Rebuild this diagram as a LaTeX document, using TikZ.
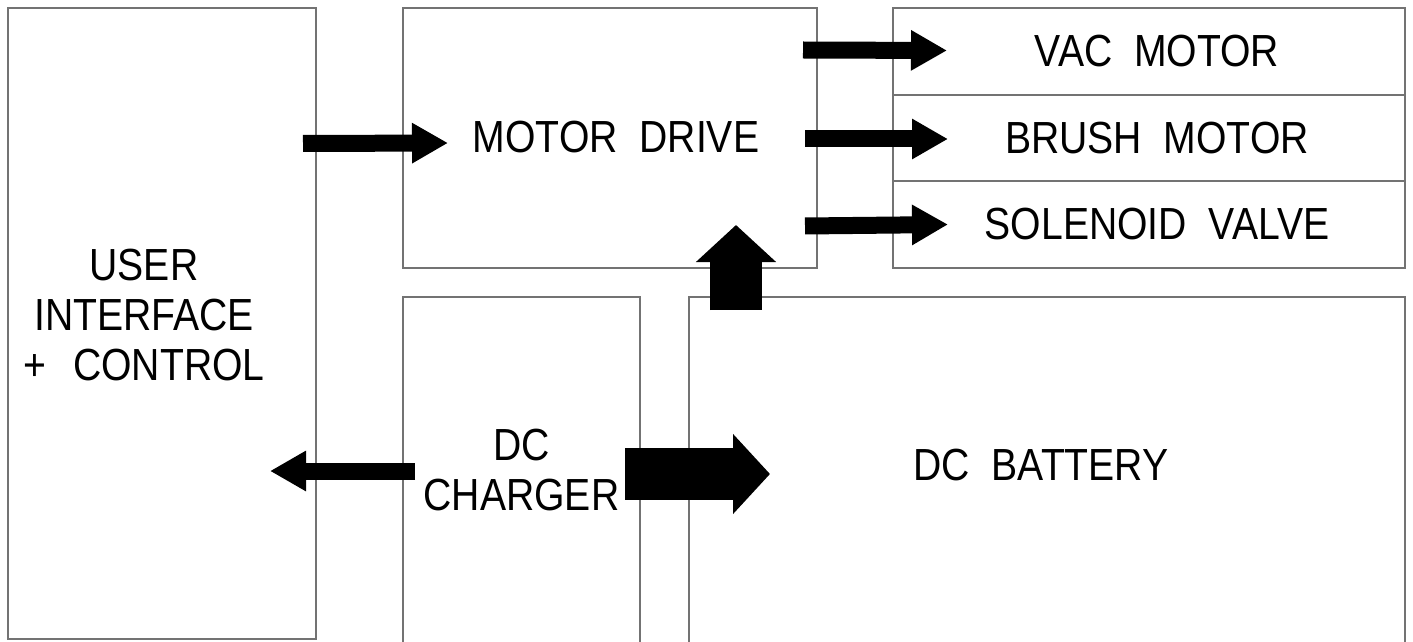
\documentclass[tikz,border=0pt]{standalone}
\usepackage{fontspec}
\setmainfont{Liberation Sans}[FakeStretch=0.87]
\usetikzlibrary{arrows.meta, positioning}
\tikzset{
	block/.style={
		rectangle,
		draw=black!55,
		line width=1.8pt,
		fill=white,
		align=center,
		outer sep=0pt,
		inner sep=0pt
	},
	rowtext/.style={
		label={[xshift=8pt]center:#1}
	},
	thinarrow/.style={
		-{Triangle[length=36pt,width=38pt]},
		line width=17pt
	},
	fatarrow/.style={
		-{Triangle[length=37pt,width=78pt]},
		line width=52pt
	}
}

\begin{document}
\begin{tikzpicture}[x=1pt, y=1pt, font=\fontsize{45}{50}\selectfont]
		
		\useasboundingbox (0,0) rectangle (1413,641);
		
		% nodes
		\node (ui)      [block, minimum width=308pt, minimum height=631pt,
		                 label={[align=center, xshift=-18pt, yshift=8pt]center:USER\\INTERFACE\\+\hspace{0.6em}CONTROL}]
		                 at (162,317.5) {};
		\node (md)      [block, minimum width=414pt, minimum height=260pt, anchor=north west,
		                 label={[xshift=6pt, yshift=1pt]center:MOTOR\ \ DRIVE}]
		                 at (403,633) {};
		\node (vac)     [block, minimum width=512pt, minimum height=87pt, anchor=north west,
		                 rowtext={VAC\ \ MOTOR}]
		                 at (893,633) {};
		\node (brush)   [block, minimum width=512pt, minimum height=86pt, below=0pt of vac,
		                 rowtext={BRUSH\ \ MOTOR}] {};
		\node (sol)     [block, minimum width=512pt, minimum height=87pt, below=0pt of brush,
		                 rowtext={SOLENOID\ \ VALVE}] {};
		\node (charger) [block, minimum width=237pt, minimum height=346pt, anchor=north west]
		                 at (403,344) {DC\\CHARGER};
		\node (battery) [block, minimum width=716pt, minimum height=346pt, anchor=north west,
		                 label={[xshift=-6pt, yshift=5pt]center:DC\ \ BATTERY}]
		                 at (689,344) {};
		
		% control to motor drive
		\draw [thinarrow] ([xshift=-13pt,yshift=180pt]ui.east) -- ([xshift=45pt,yshift=-5pt]md.west);
		
		% motor drive to motors and valve
		\draw [thinarrow] ([xshift=-14pt,yshift=88pt]md.east) -- ([xshift=54pt,yshift=1pt]vac.west);
		\draw [thinarrow] ([xshift=-12pt,yshift=-1pt]md.east) -- ([xshift=55pt,yshift=-1pt]brush.west);
		\draw [thinarrow] ([xshift=-12pt,yshift=-88pt]md.east) -- ([xshift=55pt]sol.west);
		
		% charger back to control
		\draw [thinarrow] ([xshift=12pt,yshift=-1pt]charger.west) -- ([xshift=-46pt,yshift=-1pt]ui.east |- charger.west);
		
		% power flow
		\draw [fatarrow] ([xshift=-15pt,yshift=-4pt]charger.east) -- ([xshift=81pt,yshift=-4pt]battery.west);
		\draw [fatarrow] ([xshift=47pt,yshift=-13pt]battery.north west) -- ([xshift=126pt,yshift=43pt]md.south);
		
	\end{tikzpicture}
\end{document}
